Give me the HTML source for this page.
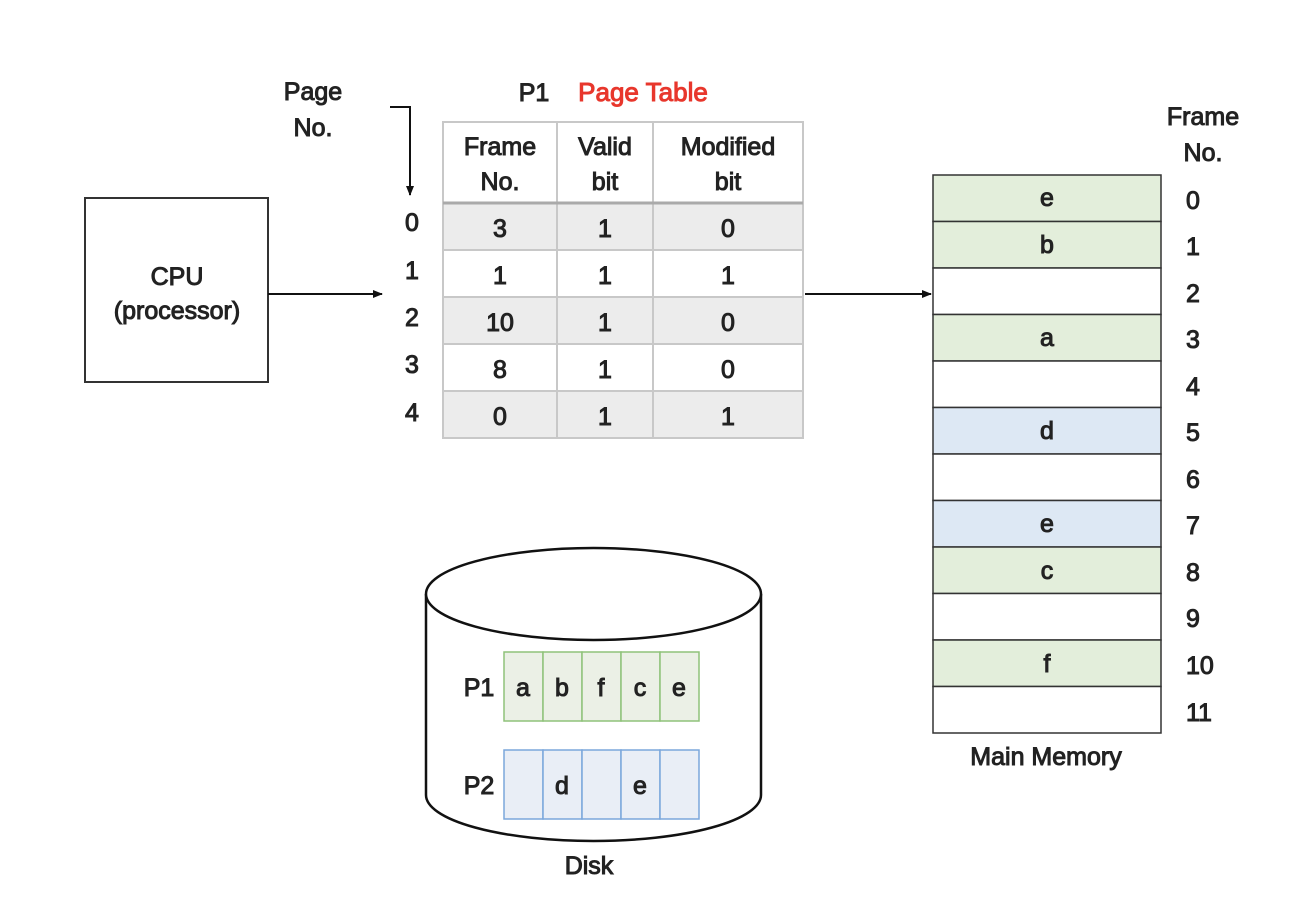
<!DOCTYPE html>
<html><head><meta charset="utf-8"><style>
html,body{margin:0;padding:0;background:#fff;}
svg text{font-family:"Liberation Sans","Noto Sans CJK KR",sans-serif;font-size:25px;fill:#222;stroke:#222;stroke-width:1;text-anchor:middle;}
</style></head><body>
<svg width="1292" height="900" viewBox="0 0 1292 900" xmlns="http://www.w3.org/2000/svg">
<defs><marker id="ah" markerWidth="10" markerHeight="10" refX="9" refY="5" orient="auto" markerUnits="userSpaceOnUse"><path d="M0,1 L10,5 L0,9 z" fill="#111"/></marker></defs>
<text x="313" y="100">Page</text>
<text x="313" y="136">No.</text>
<polyline points="390,107 410,107 410,195" fill="none" stroke="#111" stroke-width="2" marker-end="url(#ah)"/>
<text x="534" y="101">P1</text>
<text x="643" y="101" style="fill:#e8372c;stroke:#e8372c;font-size:26px">Page Table</text>
<rect x="443" y="122" width="360" height="81" fill="#fff" stroke="#c8c8c8" stroke-width="2"/>
<rect x="443" y="203" width="360" height="47" fill="#ececec"/>
<rect x="443" y="297" width="360" height="47" fill="#ececec"/>
<rect x="443" y="391" width="360" height="47" fill="#ececec"/>
<g stroke="#c8c8c8" stroke-width="2" fill="none">
<rect x="443" y="122" width="360" height="316"/>
<line x1="557" y1="122" x2="557" y2="438"/><line x1="653" y1="122" x2="653" y2="438"/>
<line x1="443" y1="203" x2="803" y2="203" stroke="#aaa" stroke-width="3"/>
<line x1="443" y1="250" x2="803" y2="250"/><line x1="443" y1="297" x2="803" y2="297"/>
<line x1="443" y1="344" x2="803" y2="344"/><line x1="443" y1="391" x2="803" y2="391"/>
</g>
<text x="500" y="155">Frame</text><text x="500" y="190">No.</text>
<text x="605" y="155">Valid</text><text x="605" y="190">bit</text>
<text x="728" y="155">Modified</text><text x="728" y="190">bit</text>
<g>
<text x="412" y="231">0</text><text x="500" y="237">3</text><text x="605" y="237">1</text><text x="728" y="237">0</text>
<text x="412" y="279">1</text><text x="500" y="284">1</text><text x="605" y="284">1</text><text x="728" y="284">1</text>
<text x="412" y="326">2</text><text x="500" y="331">10</text><text x="605" y="331">1</text><text x="728" y="331">0</text>
<text x="412" y="373">3</text><text x="500" y="378">8</text><text x="605" y="378">1</text><text x="728" y="378">0</text>
<text x="412" y="421">4</text><text x="500" y="425">0</text><text x="605" y="425">1</text><text x="728" y="425">1</text>
</g>
<rect x="85" y="198" width="183" height="184" fill="#fff" stroke="#333" stroke-width="2"/>
<text x="177" y="285">CPU</text>
<text x="177" y="319">(processor)</text>
<line x1="268" y1="294" x2="382" y2="294" stroke="#111" stroke-width="2" marker-end="url(#ah)"/>
<line x1="805" y1="294" x2="931" y2="294" stroke="#111" stroke-width="2" marker-end="url(#ah)"/>
<g stroke="#333" stroke-width="1.5">
<rect x="933" y="175" width="228" height="46.5" fill="#e3eedb"/>
<rect x="933" y="221.5" width="228" height="46.5" fill="#e3eedb"/>
<rect x="933" y="268" width="228" height="46.5" fill="#fff"/>
<rect x="933" y="314.5" width="228" height="46.5" fill="#e3eedb"/>
<rect x="933" y="361" width="228" height="46.5" fill="#fff"/>
<rect x="933" y="407.5" width="228" height="46.5" fill="#dde8f4"/>
<rect x="933" y="454" width="228" height="46.5" fill="#fff"/>
<rect x="933" y="500.5" width="228" height="46.5" fill="#dde8f4"/>
<rect x="933" y="547" width="228" height="46.5" fill="#e3eedb"/>
<rect x="933" y="593.5" width="228" height="46.5" fill="#fff"/>
<rect x="933" y="640" width="228" height="46.5" fill="#e3eedb"/>
<rect x="933" y="686.5" width="228" height="46.5" fill="#fff"/>
</g>
<text x="1047" y="206">e</text><text x="1047" y="253">b</text><text x="1047" y="346">a</text>
<text x="1047" y="439">d</text><text x="1047" y="532">e</text><text x="1047" y="579">c</text><text x="1047" y="672">f</text>
<text x="1203" y="125">Frame</text><text x="1203" y="161">No.</text>
<text x="1186" y="209" style="text-anchor:start">0</text><text x="1186" y="255" style="text-anchor:start">1</text>
<text x="1186" y="302" style="text-anchor:start">2</text><text x="1186" y="348" style="text-anchor:start">3</text>
<text x="1186" y="395" style="text-anchor:start">4</text><text x="1186" y="441" style="text-anchor:start">5</text>
<text x="1186" y="488" style="text-anchor:start">6</text><text x="1186" y="534" style="text-anchor:start">7</text>
<text x="1186" y="581" style="text-anchor:start">8</text><text x="1186" y="627" style="text-anchor:start">9</text>
<text x="1186" y="674" style="text-anchor:start">10</text><text x="1186" y="721" style="text-anchor:start">11</text>
<text x="1046" y="765">Main Memory</text>
<path d="M426,594 L426,795 A167.5,46 0 0 0 761,795 L761,594" fill="#fff" stroke="#111" stroke-width="2.5"/>
<ellipse cx="593.5" cy="594" rx="167.5" ry="46" fill="#fff" stroke="#111" stroke-width="2.5"/>
<g stroke="#8fc27a" stroke-width="1.5" fill="#ebf0e6">
<rect x="504" y="652" width="39" height="69"/><rect x="543" y="652" width="39" height="69"/>
<rect x="582" y="652" width="39" height="69"/><rect x="621" y="652" width="39" height="69"/>
<rect x="660" y="652" width="39" height="69"/>
</g>
<g stroke="#7ba7dc" stroke-width="1.5" fill="#e9eef6">
<rect x="504" y="750" width="39" height="69"/><rect x="543" y="750" width="39" height="69"/>
<rect x="582" y="750" width="39" height="69"/><rect x="621" y="750" width="39" height="69"/>
<rect x="660" y="750" width="39" height="69"/>
</g>
<text x="479" y="696">P1</text>
<text x="523" y="696">a</text><text x="562" y="696">b</text><text x="601" y="696">f</text><text x="640" y="696">c</text><text x="679" y="696">e</text>
<text x="479" y="794">P2</text>
<text x="562" y="794">d</text><text x="640" y="794">e</text>
<text x="589" y="874">Disk</text>
</svg>
</body></html>
